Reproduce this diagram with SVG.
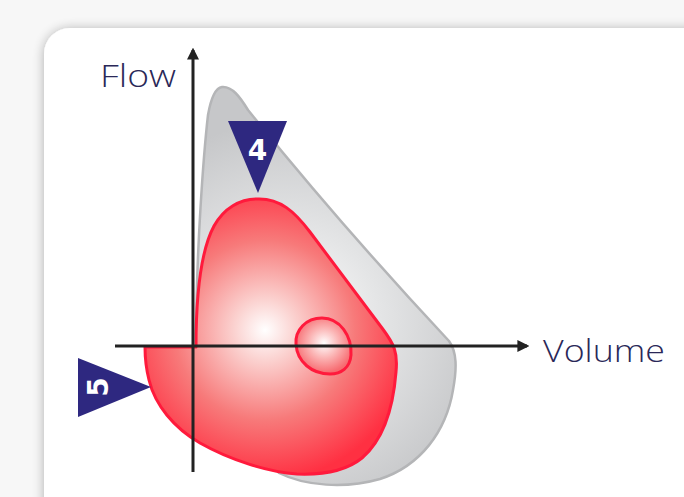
<svg xmlns="http://www.w3.org/2000/svg" width="684" height="497" viewBox="0 0 684 497">
<defs>
<style>
.axis{stroke:#222;stroke-width:3;fill:none}
.lbl{font-family:"Open Sans","Lato","Liberation Sans",sans-serif;font-weight:300;font-size:32px;fill:#2a2858}
.tri{fill:#2e2880}
.num{font-family:"DejaVu Sans","Liberation Sans",sans-serif;font-weight:bold;font-size:28px;fill:#fff}
</style>
<filter id="sh" x="-10%" y="-10%" width="120%" height="120%">
<feGaussianBlur in="SourceAlpha" stdDeviation="6"/>
<feOffset dx="0" dy="1"/>
<feComponentTransfer><feFuncA type="linear" slope="0.3"/></feComponentTransfer>
<feMerge><feMergeNode/><feMergeNode in="SourceGraphic"/></feMerge>
</filter>
<radialGradient id="gGray" gradientUnits="userSpaceOnUse" cx="290" cy="320" r="200">
<stop offset="0" stop-color="#ffffff"/>
<stop offset="0.45" stop-color="#e4e5e6"/>
<stop offset="1" stop-color="#c6c7c9"/>
</radialGradient>
<radialGradient id="gRed" gradientUnits="userSpaceOnUse" cx="265" cy="330" r="150">
<stop offset="0" stop-color="#ffffff"/>
<stop offset="0.2" stop-color="#fbd3d1"/>
<stop offset="0.6" stop-color="#f77a7a"/>
<stop offset="1" stop-color="#ff3042"/>
</radialGradient>
<radialGradient id="gOval" gradientUnits="userSpaceOnUse" cx="324" cy="343" r="30">
<stop offset="0" stop-color="#ffffff"/>
<stop offset="0.5" stop-color="#fbb4b4"/>
<stop offset="1" stop-color="#f76b70"/>
</radialGradient>
<marker id="ah" viewBox="0 0 10 10" refX="8" refY="5" markerWidth="4" markerHeight="4" orient="auto" markerUnits="strokeWidth">
<path d="M0,0 L10,5 L0,10 Z" fill="#222"/>
</marker>
</defs>
<rect x="0" y="0" width="684" height="497" fill="#f7f7f7"/>
<rect x="44" y="28" width="700" height="520" rx="26" fill="#ffffff" filter="url(#sh)"/>
<g id="envelope">
<path d="M222,87 C232,86 240,97 248,110 Q345,230 449,341 C457,352 457,368 453,390 C446,432 420,466 380,479 C345,489 305,486 279,473 L196,347 C196,250 204,150 208,115 C211,98 215,88 222,87 Z" fill="url(#gGray)" stroke="#b4b5b7" stroke-width="2.5" stroke-linejoin="round"/>
</g>
<g id="loop">
<path d="M257,199 C280,198 295,212 310,232 L382,328 C394,344 398,352 396,372 C393,410 383,440 362,458 C346,471 322,475 297,474 C268,472 230,460 200,443 C174,428 155,405 149,380 C146,368 145,356 145,347 L196,347 C196,300 200,252 214,226 C224,208 240,199 257,199 Z" fill="url(#gRed)" stroke="#ff1a3c" stroke-width="3" stroke-linejoin="round"/>
</g>
<g id="inner">
<path d="M322,318 C340,318 352,336 351,355 C350,368 341,374 330,374 C312,374 297,362 296,344 C295,330 306,318 322,318 Z" fill="url(#gOval)" stroke="#ff1a3c" stroke-width="3"/>
</g>
<g id="axes">
<line class="axis" x1="193" y1="472" x2="193" y2="50" marker-end="url(#ah)"/>
<line class="axis" x1="115" y1="346" x2="527" y2="346" marker-end="url(#ah)"/>
</g>
<g id="flow-label"><text class="lbl" x="100" y="87" textLength="76" lengthAdjust="spacingAndGlyphs">Flow</text></g>
<g id="volume-label"><text class="lbl" x="543" y="362" textLength="122" lengthAdjust="spacingAndGlyphs">Volume</text></g>
<g id="marker4">
<polygon class="tri" points="228,121 287,121 258,193"/>
<text class="num" x="257.5" y="160" text-anchor="middle">4</text>
</g>
<g id="marker5">
<polygon class="tri" points="78,358 78,417 151,387"/>
<text class="num" transform="translate(108,387) rotate(-90)" x="0" y="0" text-anchor="middle">5</text>
</g>
</svg>
